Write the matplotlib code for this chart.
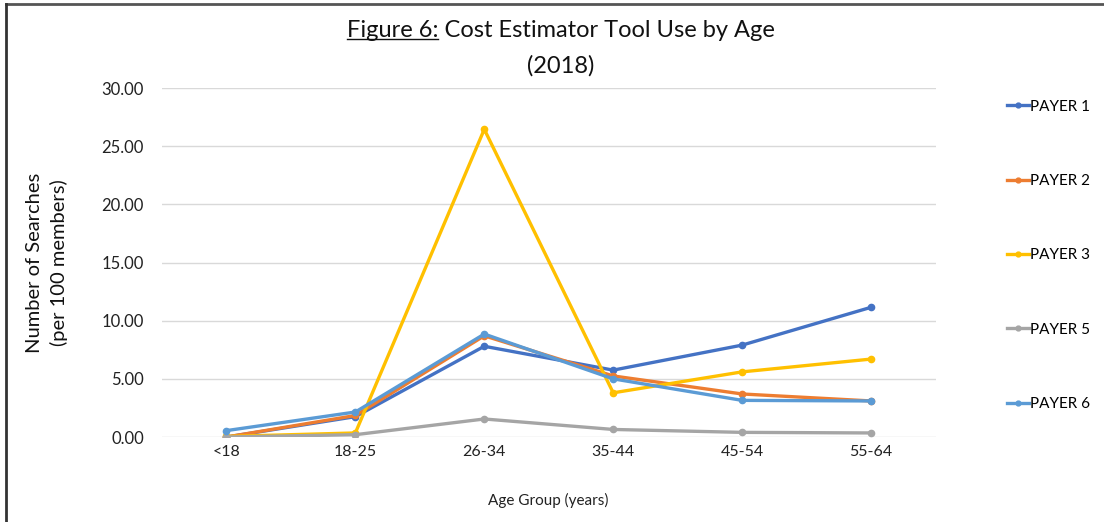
import matplotlib
matplotlib.use("Agg")
import matplotlib.pyplot as plt
from matplotlib.lines import Line2D

plt.rcParams['font.family'] = ['Lato', 'DejaVu Sans']

age_groups = ['<18', '18-25', '26-34', '35-44', '45-54', '55-64']
payer_names = ['PAYER 1', 'PAYER 2', 'PAYER 3', 'PAYER 5', 'PAYER 6']
payer_1 = [0.0, 1.75, 7.8, 5.75, 7.9, 11.15]
payer_2 = [0.0, 1.85, 8.7, 5.25, 3.7, 3.1]
payer_3 = [0.05, 0.35, 26.45, 3.8, 5.6, 6.7]
payer_5 = [0.0, 0.2, 1.55, 0.65, 0.4, 0.35]
payer_6 = [0.55, 2.15, 8.85, 5.0, 3.15, 3.1]
colors = ['#4472C4', '#ED7D31', '#FFC000', '#A5A5A5', '#5B9BD5']

fig = plt.figure(figsize=(11.04, 5.22), dpi=100)
ax = fig.add_axes([0.1467, 0.1628, 0.7007, 0.6686])

x = list(range(len(age_groups)))
series = [payer_1, payer_2, payer_3, payer_5, payer_6]
for vals, name, c in zip(series, payer_names, colors):
    ax.plot(x, vals, color=c, lw=2.4, marker='o', ms=4.5,
            solid_capstyle='round', label=name)

ax.set_xlim(-0.5, 5.5)
ax.set_ylim(0, 30)
ax.set_yticks([0, 5, 10, 15, 20, 25, 30])
ax.set_yticklabels(['%.2f' % v for v in [0, 5, 10, 15, 20, 25, 30]])
ax.set_xticks(x)
ax.set_xticklabels(age_groups)
ax.tick_params(axis='y', length=0, pad=13, labelsize=12, colors='#222222')
ax.tick_params(axis='x', length=0, pad=6, labelsize=11.5, colors='#222222')
ax.grid(axis='y', color='#D9D9D9', lw=1)
ax.set_axisbelow(True)
for s in ax.spines.values():
    s.set_visible(False)

ax.set_ylabel('Number of Searches\n(per 100 members)', fontsize=14.5,
              color='#111111', labelpad=24, linespacing=1.45)
ax.set_xlabel('Age Group (years)', fontsize=11, color='#222222', labelpad=24)

# legend down the right side
leg_handles = [Line2D([], [], color=c, lw=2.4, marker='o', ms=3.5) for c in colors]
fig.legend(leg_handles, payer_names, loc='upper left',
           bbox_to_anchor=(0.907, 0.821), frameon=False, fontsize=11,
           handlelength=1.4, handletextpad=0.1, labelspacing=3.95,
           borderaxespad=0)

# title with underlined "Figure 6:"
title_y = 0.942
t = fig.text(0.508, title_y, 'Figure 6: Cost Estimator Tool Use by Age',
             ha='center', va='center', fontsize=17, color='#111111')
fig.text(0.508, title_y - 0.069, '(2018)', ha='center', va='center',
         fontsize=17, color='#111111')
fig.canvas.draw()
r = fig.canvas.get_renderer()
bb = t.get_window_extent(r)
probe = fig.text(0, 0, 'Figure 6:', fontsize=17)
w = probe.get_window_extent(r).width
probe.remove()
inv = fig.transFigure.inverted()
x0, y0 = inv.transform((bb.x0, bb.y0 + 2))
x1, _ = inv.transform((bb.x0 + w, bb.y0 + 2))
fig.add_artist(Line2D([x0, x1], [y0, y0], color='#111111', lw=1))

# frame lines along the top and left
fig.add_artist(Line2D([0.0055, 1.0], [0.9925, 0.9925], color='#555555', lw=2))
fig.add_artist(Line2D([0.0055, 0.0055], [0.0, 0.9925], color='#333333', lw=2))

fig.savefig('out.png', dpi=100)
